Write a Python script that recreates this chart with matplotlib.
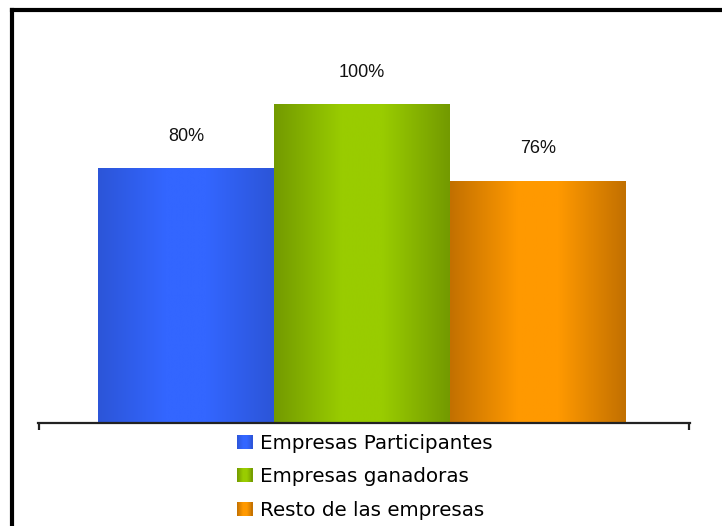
import numpy as np
import matplotlib
matplotlib.use("Agg")
import matplotlib.pyplot as plt
from matplotlib.lines import Line2D
from matplotlib.patches import Patch, Rectangle
from matplotlib.legend_handler import HandlerBase
from matplotlib.colors import LinearSegmentedColormap

categories = ["Empresas Participantes", "Empresas ganadoras", "Resto de las empresas"]
values = [80, 100, 76]
value_labels = ["80%", "100%", "76%"]

edge_colors = ["#2c55d8", "#739a00", "#c27000"]
center_colors = ["#3366ff", "#99cc00", "#ff9900"]

W, H = 722, 526
fig = plt.figure(figsize=(W / 100, H / 100), dpi=100)

ax_left, ax_right = 38, 690
ax_base, ax_top = 423, 40.2
ax = fig.add_axes([ax_left / W, (H - ax_base) / H, (ax_right - ax_left) / W, (ax_base - ax_top) / H])
ax.set_xlim(-0.841, 2.864)
ax.set_ylim(0, 120)

x = np.arange(len(values))
bars = ax.bar(x, values, width=1.0, color=center_colors, linewidth=0)

grad = np.linspace(0, 1, 256)
profile = 1 - np.abs(grad - 0.5) * 2  # 0 at edges, 1 at center
profile = np.clip(profile * 1.3, 0, 1)
cmaps = []
for b, ec, cc in zip(bars, edge_colors, center_colors):
    cmap = LinearSegmentedColormap.from_list("g", [ec, cc])
    cmaps.append(cmap)
    x0, y0 = b.get_x(), b.get_y()
    w, h = b.get_width(), b.get_height()
    im = ax.imshow(profile[np.newaxis, :], cmap=cmap, aspect="auto",
                   extent=[x0, x0 + w, y0, y0 + h], zorder=2, vmin=0, vmax=1)
    im.set_clip_path(b)

for xi, v, lab in zip(x, values, value_labels):
    ax.annotate(lab, (xi, v), xytext=(0, 19.5), textcoords="offset points",
                ha="center", va="baseline", fontsize=13, family="Liberation Sans",
                color="#111111")

for s in ["top", "left", "right"]:
    ax.spines[s].set_visible(False)
ax.spines["bottom"].set_linewidth(1.6)
ax.spines["bottom"].set_color("#222222")
ax.set_yticks([])
ax.set_xticks([ax.get_xlim()[0] + 0.003, ax.get_xlim()[1] - 0.003])
ax.set_xticklabels([])
ax.tick_params(axis="x", direction="out", length=5, width=1.6, color="#222222")
ax.set_xlim(-0.841, 2.864)


class GradientHandler(HandlerBase):
    def __init__(self, cmap):
        super().__init__()
        self.cmap = cmap

    def create_artists(self, legend, orig_handle, xdescent, ydescent,
                       width, height, fontsize, trans):
        n = 16
        arts = []
        for i in range(n):
            t = (i + 0.5) / n
            p = np.clip((1 - abs(t - 0.5) * 2) * 1.3, 0, 1)
            r = Rectangle((-xdescent + width * i / n, -ydescent), width / n + 0.3, height,
                          facecolor=self.cmap(p), edgecolor="none", transform=trans)
            arts.append(r)
        return arts


handles = [Patch(facecolor=c, edgecolor="none") for c in center_colors]
leg = fig.legend(handles, categories, loc="upper left",
                 bbox_to_anchor=(233 / W, 1 - 430 / H), frameon=False,
                 prop={"family": "DejaVu Sans", "size": 14.3},
                 handlelength=0.78, handleheight=0.72, handletextpad=0.36,
                 labelspacing=0.72, borderpad=0.2, borderaxespad=0,
                 handler_map={h: GradientHandler(cm) for h, cm in zip(handles, cmaps)})

# outer frame (left and top edges)
fig.add_artist(Line2D([11.5 / W, 11.5 / W], [0, 1 - 10 / H], transform=fig.transFigure,
                      color="black", linewidth=3, solid_capstyle="projecting"))
fig.add_artist(Line2D([11.5 / W, 1], [1 - 10 / H, 1 - 10 / H], transform=fig.transFigure,
                      color="black", linewidth=3, solid_capstyle="projecting"))

fig.savefig("out.png", dpi=100)
